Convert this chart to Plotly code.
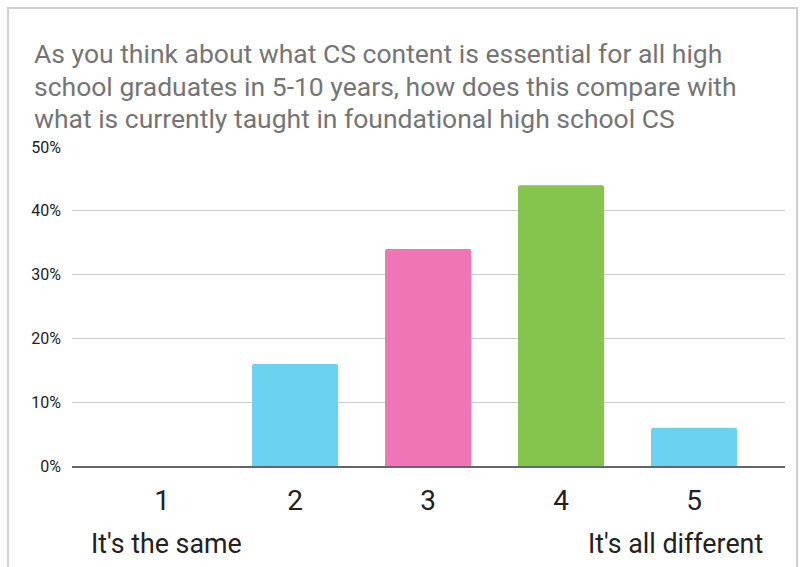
import plotly.graph_objects as go

categories = ["1", "2", "3", "4", "5"]
values = [0.0, 0.16, 0.34, 0.44, 0.06]
colors = ["#6BD3F0", "#6BD3F0", "#F075B4", "#85C44D", "#6BD3F0"]
y_ticks = [0, 0.1, 0.2, 0.3, 0.4, 0.5]
y_tick_labels = ["0%", "10%", "20%", "30%", "40%", "50%"]
title_lines = [
    "As you think about what CS content is essential for all high",
    "school graduates in 5-10 years, how does this compare with",
    "what is currently taught in foundational high school CS",
]
left_label = "It's the same"
right_label = "It's all different"

W, H = 800, 567
L, R, T, B = 72, 15, 147, 101
pw, ph = W - L - R, H - T - B

def px_to_paper_x(px):
    return (px - L) / pw

def px_to_paper_y(py):
    return (H - B - py) / ph

fig = go.Figure(go.Bar(
    x=list(range(len(categories))),
    y=values,
    marker=dict(color=colors, line=dict(width=0), cornerradius=2),
    width=0.647,
    hoverinfo="skip",
))

annotations = []
for i, line in enumerate(title_lines):
    annotations.append(dict(
        text=line, xref="paper", yref="paper",
        x=px_to_paper_x(32), y=px_to_paper_y(54 + 32 * i),
        xanchor="left", yanchor="middle", showarrow=False,
        font=dict(family="Roboto", size=26.5, color="#757575")))
annotations += [
    dict(text=left_label, xref="paper", yref="paper",
         x=px_to_paper_x(89), y=px_to_paper_y(544),
         xanchor="left", yanchor="middle", showarrow=False,
         font=dict(family="Roboto", size=26.8, color="#222222")),
    dict(text=right_label, xref="paper", yref="paper",
         x=px_to_paper_x(765), y=px_to_paper_y(544),
         xanchor="right", yanchor="middle", showarrow=False,
         font=dict(family="Roboto", size=26.8, color="#222222")),
]

fig.update_layout(
    width=W, height=H,
    margin=dict(l=L, r=R, t=T, b=B),
    paper_bgcolor="white",
    plot_bgcolor="white",
    showlegend=False,
    font=dict(family="Roboto", color="#222222"),
    xaxis=dict(
        tickmode="array",
        tickvals=list(range(len(categories))),
        ticktext=categories,
        range=[-0.677, 4.684],
        showgrid=False,
        zeroline=False,
        showline=True,
        linecolor="#666666",
        linewidth=2,
        ticks="",
        tickfont=dict(family="Roboto", size=28, color="#222222"),
        ticklabelstandoff=8,
    ),
    yaxis=dict(
        range=[0, 0.5],
        tickmode="array",
        tickvals=y_ticks,
        ticktext=y_tick_labels,
        showgrid=True,
        gridcolor="#cccccc",
        gridwidth=1,
        zeroline=False,
        showline=False,
        ticks="",
        tickfont=dict(family="Roboto", size=16, color="#222222"),
        ticklabelstandoff=10,
    ),
    annotations=annotations,
    shapes=[
        dict(type="rect", xref="paper", yref="paper",
             x0=px_to_paper_x(8), x1=px_to_paper_x(797),
             y0=px_to_paper_y(600), y1=px_to_paper_y(8),
             line=dict(color="#d0d0d0", width=2), fillcolor="rgba(0,0,0,0)",
             layer="below"),
    ],
)

fig.write_html("out.html", config={"displayModeBar": False},
               post_script="document.body.style.margin='0';")
